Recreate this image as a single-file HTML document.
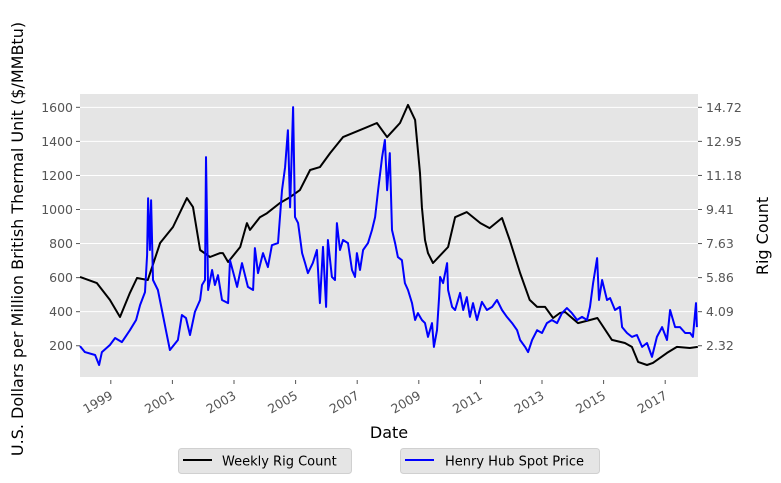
<!DOCTYPE html>
<html><head><meta charset="utf-8"><style>
html,body{margin:0;padding:0;background:#fff;width:781px;height:483px;overflow:hidden}
svg{display:block;font-family:"DejaVu Sans","Liberation Sans",sans-serif}
</style></head><body>
<svg id="chart" width="781" height="483">
<rect x="80" y="94" width="618" height="283" fill="#e5e5e5"/>
<g id="grid"></g><g id="series"></g><g id="axes"></g>
<text x="0" y="0" transform="translate(23,239) rotate(-90)" text-anchor="middle" font-size="16" fill="#000">U.S. Dollars per Million British Thermal Unit ($/MMBtu)</text>
<text x="0" y="0" transform="translate(768,236) rotate(-90)" text-anchor="middle" font-size="16" fill="#000">Rig Count</text>
<text x="389" y="438" text-anchor="middle" font-size="16" fill="#000">Date</text>
<g>
<rect x="178.5" y="448.5" width="173" height="25" rx="3" fill="#e5e5e5" stroke="#d0d0d0"/>
<line x1="183" y1="460" x2="212" y2="460" stroke="#000" stroke-width="2"/>
<text x="222" y="465.5" font-size="13" fill="#000">Weekly Rig Count</text></g>
<g>
<rect x="400.5" y="448.5" width="199" height="25" rx="3" fill="#e5e5e5" stroke="#d0d0d0"/>
<line x1="405" y1="460" x2="434" y2="460" stroke="#0000ff" stroke-width="2"/>
<text x="445" y="465.5" font-size="13" fill="#000">Henry Hub Spot Price</text></g>
</svg>
<script>
const rigDates=[1998.0,1998.55,1998.97,1999.3,1999.62,1999.85,2000.2,2000.6,2001.02,2001.47,2001.67,2001.9,2002.22,2002.55,2002.64,2002.81,2003.2,2003.42,2003.52,2003.84,2004.07,2004.49,2004.82,2005.14,2005.47,2005.79,2006.12,2006.54,2007.09,2007.64,2007.97,2008.39,2008.65,2008.88,2009.04,2009.1,2009.2,2009.3,2009.46,2009.95,2010.18,2010.56,2011.0,2011.3,2011.7,2011.95,2012.29,2012.6,2012.84,2013.1,2013.36,2013.58,2013.75,2014.17,2014.56,2014.8,2015.27,2015.69,2015.92,2016.12,2016.41,2016.6,2017.06,2017.38,2017.8,2018.06];
const rigValues=[604,568,469,369,510,598,586,803,897,1067,1014,762,721,744,744,692,780,920,880,955,978,1038,1073,1114,1232,1249,1331,1425,1466,1508,1425,1508,1614,1526,1214,1014,821,744,686,780,955,985,920,891,950,821,627,469,428,428,363,392,398,333,351,363,234,216,193,105,87,99,158,193,187,193];
const priceDates=[1998.00,1998.16,1998.49,1998.62,1998.71,1998.97,1999.14,1999.36,1999.62,1999.82,1999.95,2000.11,2000.18,2000.21,2000.27,2000.31,2000.37,2000.53,2000.66,2000.79,2000.92,2001.05,2001.18,2001.31,2001.44,2001.57,2001.73,2001.90,2001.96,2002.06,2002.09,2002.16,2002.29,2002.38,2002.48,2002.61,2002.81,2002.87,2003.10,2003.26,2003.45,2003.62,2003.68,2003.78,2003.94,2004.10,2004.23,2004.43,2004.56,2004.66,2004.75,2004.82,2004.92,2004.98,2005.08,2005.21,2005.31,2005.40,2005.56,2005.69,2005.79,2005.89,2005.99,2006.05,2006.18,2006.28,2006.34,2006.44,2006.54,2006.70,2006.83,2006.93,2006.99,2007.09,2007.19,2007.35,2007.48,2007.58,2007.68,2007.81,2007.90,2007.97,2008.06,2008.13,2008.23,2008.32,2008.45,2008.55,2008.65,2008.78,2008.88,2008.97,2009.10,2009.20,2009.30,2009.43,2009.49,2009.59,2009.66,2009.69,2009.79,2009.92,2009.95,2010.08,2010.18,2010.34,2010.44,2010.56,2010.66,2010.76,2010.89,2011.05,2011.21,2011.38,2011.54,2011.70,2011.86,2012.03,2012.19,2012.29,2012.45,2012.55,2012.68,2012.84,2013.00,2013.16,2013.32,2013.49,2013.65,2013.81,2013.97,2014.14,2014.30,2014.46,2014.56,2014.66,2014.79,2014.85,2014.95,2015.11,2015.21,2015.37,2015.53,2015.60,2015.76,2015.92,2016.08,2016.25,2016.41,2016.57,2016.73,2016.90,2017.06,2017.16,2017.32,2017.48,2017.65,2017.81,2017.90,2018.00,2018.03];
const priceValues=[2.30,1.99,1.84,1.32,1.99,2.36,2.72,2.51,3.13,3.66,4.44,5.11,7.04,9.99,7.30,9.89,5.74,5.22,4.18,3.13,2.10,2.36,2.62,3.92,3.76,2.88,4.08,4.70,5.48,5.74,12.13,5.22,6.26,5.48,5.99,4.70,4.54,6.77,5.38,6.62,5.38,5.22,7.40,6.10,7.14,6.41,7.55,7.66,10.41,11.61,13.53,9.52,14.73,9.01,8.70,7.14,6.62,6.10,6.62,7.30,4.54,7.46,4.34,7.82,5.90,5.74,8.70,7.30,7.82,7.66,6.26,5.90,7.14,6.26,7.30,7.66,8.34,9.01,10.41,12.13,13.02,10.41,12.34,8.34,7.66,6.93,6.77,5.58,5.22,4.54,3.66,4.02,3.66,3.50,2.78,3.50,2.26,3.13,4.85,5.90,5.58,6.62,5.22,4.34,4.18,5.07,4.18,4.85,3.82,4.54,3.66,4.60,4.18,4.34,4.70,4.18,3.82,3.50,3.13,2.62,2.26,1.99,2.62,3.13,2.98,3.50,3.66,3.50,4.02,4.28,4.02,3.66,3.82,3.66,4.34,5.58,6.88,4.70,5.74,4.70,4.80,4.18,4.34,3.29,2.98,2.78,2.88,2.26,2.46,1.74,2.78,3.29,2.62,4.18,3.29,3.29,2.98,2.98,2.78,4.54,3.29];
const leftTicks=[200,400,600,800,1000,1200,1400,1600];
const rightTicks=["2.32","4.09","5.86","7.63","9.41","11.18","12.95","14.72"];
const xTicks=[1999,2001,2003,2005,2007,2009,2011,2013,2015,2017];

const NS="http://www.w3.org/2000/svg";
const X0=80,X1=698,Y0=94,Y1=377;
function xs(t){return 110.8+(t-1999)*30.8;}
function yL(v){return 379.8-v*0.1703;}
function yR(p){return yL(200+(p-2.32)*1400/12.4);}
function mk(tag,attrs,parent){const e=document.createElementNS(NS,tag);for(const k in attrs)e.setAttribute(k,attrs[k]);parent.appendChild(e);return e;}
const grid=document.getElementById('grid'),axes=document.getElementById('axes'),ser=document.getElementById('series');
leftTicks.forEach((v,i)=>{
  const y=yL(v);
  const g=mk('line',{x1:X0,x2:X1,y1:y,y2:y,stroke:'#fff','stroke-width':1},grid);
  
  
  mk('line',{x1:X0-4,x2:X0,y1:y,y2:y,stroke:'#555'},axes);
  const t=mk('text',{x:X0-7,y:y+4.5,'text-anchor':'end','font-size':12.5,fill:'#555'},axes);
  t.textContent=v;
  
  
  mk('line',{x1:X1,x2:X1+4,y1:y,y2:y,stroke:'#555'},axes);
  const r=mk('text',{x:X1+8,y:y+4.5,'font-size':12.5,fill:'#555'},axes);
  r.textContent=rightTicks[i];
  
  
});
xTicks.forEach(yr=>{
  const x=xs(yr);
  mk('line',{x1:x,x2:x,y1:Y1+3,y2:Y1+7,stroke:'#555'},axes);
  const t=mk('text',{x:0,y:0,'text-anchor':'end','font-size':12.5,fill:'#555',transform:`translate(${x+3},${Y1+21}) rotate(-30)`},axes);
  t.textContent=yr;
  
  
});
const rp=mk('path',{d:rigDates.map((d,i)=>(i?'L':'M')+xs(d).toFixed(1)+','+yL(rigValues[i]).toFixed(1)).join(''),fill:'none',stroke:'#000','stroke-width':2,'stroke-linejoin':'round'},ser);


const pp=mk('path',{d:priceDates.map((d,i)=>(i?'L':'M')+xs(d).toFixed(1)+','+yR(priceValues[i]).toFixed(1)).join(''),fill:'none',stroke:'#0000ff','stroke-width':2,'stroke-linejoin':'round'},ser);


</script>
</body></html>
